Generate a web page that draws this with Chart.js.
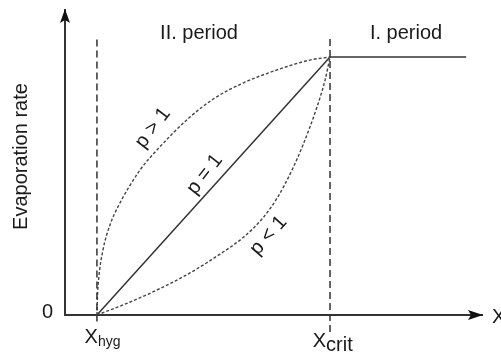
<!DOCTYPE html>
<html><head><meta charset="utf-8">
<script src="https://cdn.jsdelivr.net/npm/chart.js@4"></script>
<style>html,body{margin:0;padding:0;background:#fff}canvas{display:block}</style>
</head><body>
<canvas id="c" width="501" height="352"></canvas>
<script>
// ---- data (normalised: X_hyg = 0, X_crit = 1, rate in period I = 1) ----
const moistureTicks = [0, 1];
const moistureTickMain = ['X', 'X'];
const moistureTickSub = ['hyg', 'crit'];
const rateTicks = [0];
const rateTickLabels = ['0'];

const pGreaterX = [0, 0.002, 0.007, 0.026, 0.056, 0.090, 0.185, 0.258, 0.399, 0.506, 0.627, 0.773, 0.914, 1];
const pGreaterY = [0, 0.066, 0.136, 0.252, 0.349, 0.419, 0.562, 0.640, 0.767, 0.841, 0.899, 0.950, 0.988, 1];

const pEqualX = [0, 1];
const pEqualY = [0, 1];

const pLessX = [0, 0.112, 0.258, 0.399, 0.528, 0.627, 0.708, 0.773, 0.837, 0.884, 0.944, 0.979, 1];
const pLessY = [0, 0.039, 0.097, 0.163, 0.236, 0.300, 0.372, 0.453, 0.562, 0.659, 0.806, 0.911, 1];

const periodOneX = [1, 1.584];
const periodOneY = [1, 1];

const hygLineX = [0, 0];
const hygLineY = [-0.025, 1.081];
const critLineX = [1, 1];
const critLineY = [-0.066, 1.081];

const xRange = [-0.137, 1.652];
const yRange = [0, 1.182];

const periodLabels = ['II. period', 'I. period'];
const curveLabels = ['p > 1', 'p = 1', 'p < 1'];
const axisTitleY = 'Evaporation rate';
const axisTitleX = 'X';

// ---- styling / placement ----
const FONT = '"Liberation Sans", Arial, Helvetica, sans-serif';
const TXT = '#1a1a1a';
const periodPos = [{x: 0.438, y: 1.07}, {x: 1.326, y: 1.07}];
const curveLabelPos = [
  {x: 0.240, y: 0.725, a: -53},
  {x: 0.463, y: 0.545, a: -52},
  {x: 0.736, y: 0.308, a: -48.5}
];

const pts = (xs, ys) => xs.map((x, i) => ({x, y: ys[i]}));

const datasets = [
  {data: pts(hygLineX, hygLineY), borderColor: '#333', borderWidth: 1.5, borderDash: [7, 4]},
  {data: pts(critLineX, critLineY), borderColor: '#333', borderWidth: 1.5, borderDash: [7, 4]},
  {data: pts(pGreaterX, pGreaterY), borderColor: '#444', borderWidth: 1.4, borderDash: [3, 2], cubicInterpolationMode: 'monotone'},
  {data: pts(pLessX, pLessY), borderColor: '#444', borderWidth: 1.4, borderDash: [3, 2], cubicInterpolationMode: 'monotone'},
  {data: pts(pEqualX, pEqualY), borderColor: '#333', borderWidth: 1.5},
  {data: pts(periodOneX, periodOneY), borderColor: '#666', borderWidth: 2}
].map(d => Object.assign({showLine: true, pointRadius: 0, pointHoverRadius: 0, clip: false, fill: false, tension: 0}, d));

const decor = {
  id: 'decor',
  afterDraw(chart) {
    const ctx = chart.ctx;
    const xs = chart.scales.x, ys = chart.scales.y;
    const x0 = xs.getPixelForValue(xRange[0]);
    const y0 = ys.getPixelForValue(0);
    const yTop = ys.top;
    const xEnd = xs.right;
    ctx.save();
    ctx.fillStyle = '#111';
    // y arrow
    ctx.beginPath();
    ctx.moveTo(x0, yTop - 1);
    ctx.lineTo(x0 - 5, yTop + 13);
    ctx.lineTo(x0, yTop + 10);
    ctx.lineTo(x0 + 5, yTop + 13);
    ctx.closePath();
    ctx.fill();
    // x arrow
    ctx.beginPath();
    ctx.moveTo(xEnd + 1, y0);
    ctx.lineTo(xEnd - 14, y0 - 5);
    ctx.lineTo(xEnd - 11, y0);
    ctx.lineTo(xEnd - 14, y0 + 5);
    ctx.closePath();
    ctx.fill();

    ctx.fillStyle = TXT;
    ctx.font = '20px ' + FONT;
    // y tick labels
    ctx.textAlign = 'right';
    ctx.textBaseline = 'alphabetic';
    rateTicks.forEach((v, i) => {
      ctx.fillText(rateTickLabels[i], x0 - 12, ys.getPixelForValue(v) + 3);
    });
    // x tick labels
    moistureTicks.forEach((v, i) => {
      const px = xs.getPixelForValue(v);
      if (i === 0) {
        ctx.font = '20px ' + FONT;
        ctx.textAlign = 'right';
        ctx.fillText(moistureTickMain[i], px + 1, y0 + 28);
        ctx.font = '14px ' + FONT;
        ctx.textAlign = 'left';
        ctx.fillText(moistureTickSub[i], px + 1, y0 + 31);
      } else {
        ctx.font = '20px ' + FONT;
        ctx.textAlign = 'right';
        ctx.fillText(moistureTickMain[i], px - 4, y0 + 32);
        ctx.font = '20px ' + FONT;
        ctx.textAlign = 'left';
        ctx.fillText(moistureTickSub[i], px - 4, y0 + 36);
      }
    });
    // x axis title (cut at edge)
    ctx.font = '20px ' + FONT;
    ctx.textAlign = 'left';
    ctx.fillText(axisTitleX, xEnd + 10, y0 + 8);
    // y axis title
    ctx.save();
    ctx.translate(27, (ys.getPixelForValue(0) + yTop) / 2 - 6);
    ctx.rotate(-Math.PI / 2);
    ctx.textAlign = 'center';
    ctx.fillText(axisTitleY, 0, 0);
    ctx.restore();
    // period labels
    ctx.textAlign = 'center';
    ctx.textBaseline = 'alphabetic';
    periodLabels.forEach((t, i) => {
      ctx.fillText(t, xs.getPixelForValue(periodPos[i].x), ys.getPixelForValue(periodPos[i].y));
    });
    // curve labels
    ctx.textBaseline = 'middle';
    curveLabels.forEach((t, i) => {
      const p = curveLabelPos[i];
      ctx.save();
      ctx.translate(xs.getPixelForValue(p.x), ys.getPixelForValue(p.y));
      ctx.rotate(p.a * Math.PI / 180);
      ctx.fillText(t, 0, 0);
      ctx.restore();
    });
    ctx.restore();
  }
};

new Chart(document.getElementById('c'), {
  type: 'scatter',
  data: {datasets},
  options: {
    responsive: false,
    animation: false,
    events: [],
    layout: {padding: {left: 65, right: 19, top: 10, bottom: 37}},
    plugins: {legend: {display: false}, tooltip: {enabled: false}},
    scales: {
      x: {
        type: 'linear', min: xRange[0], max: xRange[1],
        position: {y: 0},
        grid: {display: false},
        ticks: {display: false},
        border: {display: true, color: '#333', width: 2}
      },
      y: {
        type: 'linear', min: yRange[0], max: yRange[1],
        position: {x: xRange[0]},
        grid: {display: false},
        ticks: {display: false},
        border: {display: true, color: '#333', width: 2}
      }
    }
  },
  plugins: [decor]
});
</script>
</body></html>
